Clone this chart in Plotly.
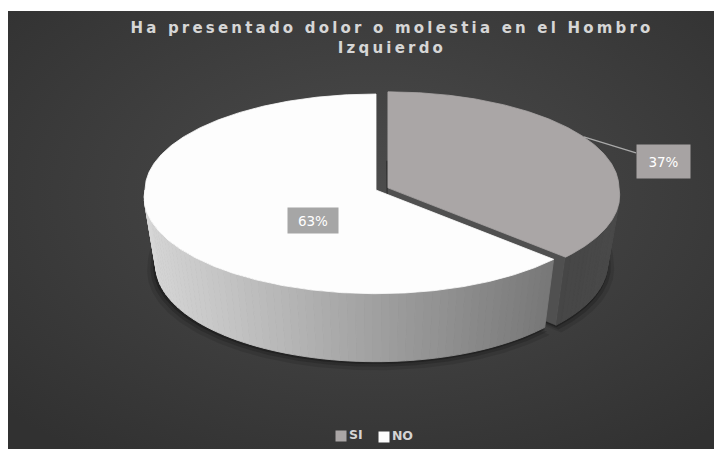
import base64
import numpy as np
import plotly.graph_objects as go

# ---------------- data ----------------
labels = ["SI", "NO"]
values = [37, 63]
slice_colors = ["#aaa6a6", "#fdfdfd"]
title_text = "Ha presentado dolor o molestia en el Hombro<br>Izquierdo"

# ---------------- canvas and pie geometry (pixel units) ----------------
W, H = 714, 449
BG_X0, BG_Y0 = 8, 11          # chart area inside the white frame
CX, CY = 376, 190             # centre of the top face
RX, RY = 231, 96              # radii of the top ellipse
FRONT = 0.08                  # perspective: near half drawn larger
BOTTOM_X = 0.95               # perspective: base drawn narrower
DEPTH = 68                    # thickness of the pie
PULL = {"SI": 13}             # exploded slices
LEGEND_POS = {"SI": (341, 436), "NO": (384, 437)}

total = float(sum(values))
spans = []
start = 0.0
for lab, v in zip(labels, values):
    sweep = 360.0 * v / total
    spans.append((lab, start, start + sweep))
    start += sweep


def slice_offset(a0, a1, pull):
    mid = np.radians((a0 + a1) / 2.0)
    return pull * np.sin(mid), -pull * np.cos(mid) * RY / RX


def arc(a0, a1, ox, oy, base=False, step=1.0):
    """Rim points of a slice between two angles (clockwise from 12 o'clock)."""
    n = max(2, int(abs(a1 - a0) / step) + 1)
    t = np.radians(np.linspace(a0, a1, n))
    grow = 1.0 + FRONT * np.clip(-np.cos(t), 0, None)
    dx = ox + RX * np.sin(t) * grow
    dy = oy - RY * np.cos(t) * grow
    if base:
        return CX + dx * BOTTOM_X, CY + dy + DEPTH
    return CX + dx, CY + dy


def apex(ox, oy, base=False):
    if base:
        return CX + ox * BOTTOM_X, CY + oy + DEPTH
    return CX + ox, CY + oy


fig = go.Figure()


def poly(xs, ys, color, lw=0.8, line_color=None):
    xs = list(xs) + [xs[0]]
    ys = list(ys) + [ys[0]]
    fig.add_trace(go.Scatter(
        x=xs, y=ys, mode="lines", fill="toself", fillcolor=color,
        line=dict(color=line_color or color, width=lw),
        hoverinfo="skip", showlegend=False))


def gray(level):
    level = int(round(max(0, min(255, level))))
    return f"rgb({level},{level},{level})"


# soft shadow under the pie
for grow, alpha, dy in [(1.035, 0.10, 5), (1.02, 0.16, 3), (1.008, 0.25, 1.5)]:
    for lab, a0, a1 in spans:
        ox, oy = slice_offset(a0, a1, PULL.get(lab, 0))
        bx, by = arc(a0, a1, ox, oy, base=True)
        ax0, ay0 = apex(ox, oy, base=True)
        xs = [ax0] + list(ax0 + (bx - ax0) * grow - 1)
        ys = [ay0 + dy] + list(ay0 + (by - ay0) * grow + dy)
        poly(xs, ys, f"rgba(0,0,0,{alpha})", lw=0)

# slices, back (exploded SI) first, then the front slice
for (lab, a0, a1), col in zip(spans, slice_colors):
    ox, oy = slice_offset(a0, a1, PULL.get(lab, 0))
    tpx, tpy = apex(ox, oy)
    bpx, bpy = apex(ox, oy, base=True)
    dark = lab == "SI"

    # radial cut faces that look towards the viewer
    for ang, normal in [(a0, a0 - 90.0), (a1, a1 + 90.0)]:
        if -np.cos(np.radians(normal)) > 0.05:
            rtx, rty = arc(ang, ang, ox, oy)
            rbx, rby = arc(ang, ang, ox, oy, base=True)
            poly([tpx, rtx[0], rbx[0], bpx], [tpy, rty[0], rby[0], bpy],
                 gray(80) if dark else gray(120), lw=0.6)
            fig.add_trace(go.Scatter(
                x=[rtx[0], rbx[0]], y=[rty[0], rby[0]],
                mode="lines", line=dict(color=gray(104), width=1),
                hoverinfo="skip", showlegend=False))

    # outer wall (front half only), shaded in narrow strips
    lo, hi = max(a0, 90.0), min(a1, 270.0)
    if lo < hi:
        edges = np.linspace(lo, hi, int((hi - lo) / 2.0) + 2)
        for t0, t1 in zip(edges[:-1], edges[1:]):
            tx, ty = arc(t0, t1, ox, oy, step=0.5)
            bx, by = arc(t1, t0, ox, oy, base=True, step=0.5)
            xm = float(np.mean(tx))
            if dark:
                lvl = 76 - 6 * (t1 - 90.0) / 45.0
            else:
                f = (xm - 145.0) / (560.0 - 145.0)
                lvl = 214 - 96 * f
            poly(list(tx) + list(bx), list(ty) + list(by), gray(lvl), lw=0.9)

    # top face
    tx, ty = arc(a0, a1, ox, oy, step=0.5)
    poly([tpx] + list(tx), [tpy] + list(ty), col, lw=0.8)

# legend: colour swatch followed by the category name
for lab, col in zip(labels, slice_colors):
    lx, ly = LEGEND_POS[lab]
    fig.add_trace(go.Scatter(
        x=[lx], y=[ly], mode="markers+text", text=[lab],
        textposition="middle right",
        textfont=dict(family="DejaVu Sans", size=12.5, color="#d4d4d4",
                      weight="bold"),
        marker=dict(symbol="square", size=11, color=col, line=dict(width=0)),
        hoverinfo="skip", showlegend=False))

# data labels
lab_font = dict(family="DejaVu Sans", size=13.5, color="#ffffff")
si_lab, si_a0, si_a1 = spans[0]
sox, soy = slice_offset(si_a0, si_a1, PULL["SI"])
px, py = arc(58, 58, sox, soy)
fig.add_annotation(
    x=px[0], y=py[0], ax=663, ay=161, axref="x", ayref="y",
    xref="x", yref="y", text=f"{values[0]}%", showarrow=True,
    arrowhead=0, arrowwidth=1.3, arrowcolor="#a9a9a9",
    bgcolor="#a7a3a3", width=53, height=33, borderpad=0,
    font=lab_font, align="center", valign="middle")
fig.add_annotation(
    x=313, y=220, xref="x", yref="y", text=f"{values[1]}%",
    showarrow=False, bgcolor="#a6a6a6", width=50, height=25,
    borderpad=0, font=lab_font, align="center", valign="middle")

# radial background
svg = (
    "<svg xmlns='http://www.w3.org/2000/svg' width='706' height='438'>"
    "<defs><radialGradient id='g' cx='0.52' cy='0.42' r='0.72'>"
    "<stop offset='0' stop-color='#4c4c4c'/>"
    "<stop offset='1' stop-color='#313131'/>"
    "</radialGradient></defs>"
    "<rect width='706' height='438' fill='url(#g)'/></svg>"
)
bg_src = "data:image/svg+xml;base64," + base64.b64encode(svg.encode()).decode()

fig.update_layout(
    width=W, height=H,
    margin=dict(l=0, r=0, t=0, b=0),
    paper_bgcolor="#ffffff",
    plot_bgcolor="rgba(0,0,0,0)",
    images=[dict(source=bg_src, xref="paper", yref="paper",
                 x=BG_X0 / W, y=1 - BG_Y0 / H,
                 sizex=(W - BG_X0) / W, sizey=(H - BG_Y0) / H,
                 xanchor="left", yanchor="top", sizing="stretch",
                 layer="below")],
    title=dict(text=title_text, x=392 / W, xanchor="center",
               y=1 - 33 / H, yanchor="top", xref="paper", yref="container",
               font=dict(family="DejaVu Sans", size=15, weight="bold",
                         color="#d6d6d6")),
    xaxis=dict(range=[0, W], visible=False, fixedrange=True),
    yaxis=dict(range=[H, 0], visible=False, fixedrange=True),
    showlegend=False,
)

# wider tracking for the title text
post = ("var s=document.createElement('style');"
        "s.textContent='.gtitle{letter-spacing:3.2px}';"
        "document.head.appendChild(s);")
fig.write_html("out.html", post_script=post)
